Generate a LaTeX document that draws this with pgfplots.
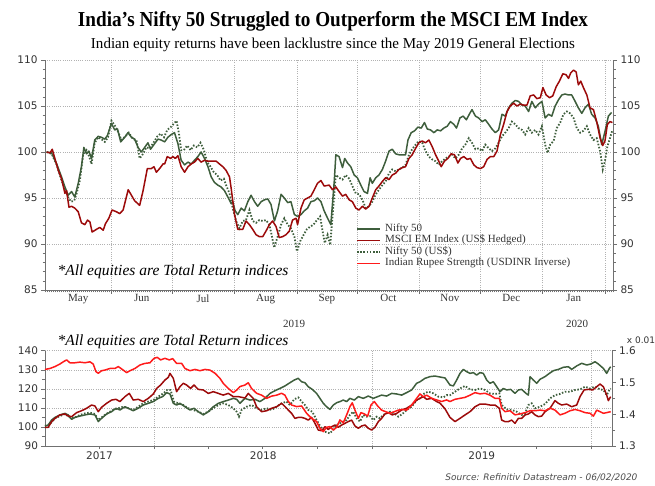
\documentclass[border=0pt]{standalone}
\usepackage{pgfplots}
\pgfplotsset{compat=1.18}
\usepackage{fontspec}
\setmainfont{Liberation Serif}
\newfontfamily\verd{DejaVu Sans}
\definecolor{niftygreen}{HTML}{3E5E3C}
\definecolor{msci}{HTML}{9C0A0A}
\definecolor{rupee}{HTML}{FF1A1A}
\definecolor{axisc}{HTML}{707070}
\tikzset{
  sline/.style={line width=1.5pt, line join=round},
  dline/.style={niftygreen, line width=1.8pt, dash pattern=on 1.5pt off 1.7pt},
}
\pgfplotsset{
  mygrid/.style={major grid style={black!30, line width=0.5pt, dash pattern=on 1pt off 1.2pt}},
}
\begin{document}
\begin{tikzpicture}[x=1pt,y=1pt]
\path[use as bounding box] (0,0) rectangle (655,486);
\node[anchor=base] at (333,459) {\resizebox{510pt}{15pt}{\bfseries India's Nifty 50 Struggled to Outperform the MSCI EM Index}};
\node[anchor=base] at (333,437) {\resizebox{484pt}{10.5pt}{Indian equity returns have been lacklustre since the May 2019 General Elections}};

% ---------------- TOP CHART ----------------
\begin{axis}[
  at={(45pt,196pt)}, anchor=south west, scale only axis, width=568pt, height=230pt,
  xmin=-2, xmax=280, ymin=85, ymax=110,
  axis x line*=bottom, axis y line*=left,
  axis line style={-, axisc, line width=0.8pt},
  tick align=outside, tick style={axisc, line width=0.5pt},
  major tick length=4pt, minor tick length=2.5pt,
  xtick={31,61,92,123,153,184,214,245,276}, xticklabels={{},{},{},{},{},{},{},{},{}},
  minor xtick={-2,-1,...,280},
  ytick={85,90,...,110}, minor y tick num=4,
  xmajorgrids, ymajorgrids, mygrid,
  extra x ticks={14.5,46,76.5,107.5,138,168.5,199,229.5,260.5},
  extra x tick labels={May,Jun,Jul,Aug,Sep,Oct,Nov,Dec,Jan},
  extra x tick style={grid=none, major tick length=0pt, tick label style={font=\fontsize{11}{11}\selectfont, text=black!80, yshift=-1pt}},
  yticklabel style={font=\verd\fontsize{10.5}{10.5}\selectfont, text=black!80},
  /pgf/number format/assume math mode=true,
]
\addplot[dline] coordinates {
(-1.2,100) (1.3,99.8) (3.8,98.6) (6.2,96.9) (7.9,96.0) (9.5,95.1) (10.9,94.6) (12.5,94.7) (13.7,95.5) (15.3,96.9)
(17.0,99.8) (18.6,100.2) (19.8,99.6) (21.1,98.7) (22.7,101.0) (24.4,101.6) (26.0,101.4) (27.7,101.1) (29.3,101.6) (31.0,103.4)
(32.6,102.9) (34.3,102.2) (35.9,101.3) (37.9,101.7) (39.6,102.1) (41.7,101.4) (43.4,101.3) (45.0,99.3) (46.7,99.8) (48.3,100.5)
(50.0,100.4) (52.1,101.1) (53.8,101.7) (55.4,102.0) (57.1,101.6) (58.7,102.4) (60.4,102.7) (62.0,103.1) (63.3,103.4) (64.5,102.0)
(65.6,100.2) (66.9,100.2) (68.6,100.7) (70.3,100.2) (71.9,100.7) (73.6,100.5) (75.2,101.0) (76.9,100.2) (78.5,98.9) (80.2,98.4)
(81.8,97.8) (83.5,97.5) (85.1,96.9) (86.8,97.1) (87.9,96.4) (89.6,95.5) (91.2,93.9) (92.9,92.5) (94.5,91.7) (96.2,92.5)
(97.8,92.6) (99.5,93.7) (101.1,92.5) (102.8,92.3) (104.4,92.6) (106.1,92.5) (107.7,92.6) (109.4,92.1) (110.5,91.0) (111.8,89.6)
(113.5,90.8) (115.2,92.1) (116.8,92.8) (118.5,92.1) (120.1,91.7) (121.8,90.8) (123.1,89.2) (124.7,90.3) (126.4,91.0) (128.0,91.6)
(129.7,91.9) (131.3,92.1) (133.0,92.6) (134.6,93.0) (135.8,91.4) (136.9,90.1) (138.3,91.0) (139.6,89.9) (141.2,94.3) (142.4,97.5)
(144.0,97.2) (145.7,97.0) (147.3,97.5) (149.0,97.1) (150.6,96.3) (152.3,95.5) (154.0,95.4) (155.6,94.8) (157.2,93.9) (158.9,94.1)
(160.5,94.6) (162.2,95.4) (163.8,95.9) (165.5,96.4) (167.1,96.8) (168.8,97.7) (170.4,98.1) (172.1,97.9) (173.7,98.1) (175.4,98.3)
(177.0,98.6) (178.7,99.7) (180.3,100.3) (182.0,100.8) (183.6,101.2) (185.3,101.0) (186.9,100.1) (188.6,99.5) (190.2,99.2) (191.9,99.0)
(193.5,98.6) (195.2,99.0) (196.8,99.3) (198.5,99.5) (200.1,99.7) (201.8,99.3) (203.4,99.7) (205.1,100.4) (206.7,100.8) (208.4,101.5)
(210.0,101.0) (211.7,100.3) (213.3,100.4) (215.0,100.1) (216.6,100.8) (218.3,100.4) (219.9,100.1) (221.6,100.4) (223.2,101.0) (224.9,101.7)
(226.5,102.1) (228.2,102.6) (229.8,103.3) (231.5,103.0) (233.1,102.6) (234.8,102.4) (236.4,101.9) (238.1,102.6) (239.7,102.1) (241.4,102.4)
(243.0,101.9) (244.7,102.8) (246.3,100.8) (247.5,99.9) (248.8,100.8) (250.5,101.2) (252.1,102.6) (253.8,103.2) (255.4,104.1) (257.1,104.4)
(258.7,104.2) (260.4,103.7) (262.0,102.6) (263.7,102.1) (265.3,102.3) (267.0,102.8) (268.6,101.9) (270.3,101.3) (271.9,101.5) (273.6,100.1)
(274.9,98.1) (276.0,99.0) (277.2,100.6) (278.5,101.5) (279.7,102.4)
};
\addplot[sline, niftygreen] coordinates {
(-1.2,100) (1.3,99.9) (3.8,98.7) (6.2,97.3) (7.9,96.2) (9.5,95.3) (11.2,95.7) (12.8,95.1) (14.5,96.6) (16.1,98.4)
(17.3,100.5) (18.6,99.8) (19.8,100.1) (21.1,99.3) (22.7,101.3) (24.4,101.7) (26.0,101.6) (27.7,101.4) (29.0,101.8) (31.0,103.1)
(32.6,102.4) (34.0,102.5) (35.6,101.1) (37.6,101.6) (39.2,102.1) (40.9,101.6) (42.5,101.4) (44.2,100.5) (45.8,100.0) (47.5,100.5)
(49.1,101.0) (50.4,100.3) (52.4,100.9) (54.1,101.4) (55.7,101.3) (57.4,101.1) (59.0,101.6) (60.7,101.9) (62.3,102.1) (64.0,100.9)
(65.6,99.1) (67.3,98.6) (69.0,98.9) (70.6,98.7) (72.2,99.1) (73.9,99.5) (75.5,100.0) (77.2,99.3) (78.9,98.4) (80.5,97.3)
(82.1,96.7) (83.8,96.4) (85.4,96.2) (87.1,95.8) (88.8,95.1) (90.4,94.4) (91.2,94.6) (92.4,93.6) (93.7,93.2) (95.4,93.9)
(97.0,93.6) (98.7,94.6) (100.3,95.3) (102.0,94.6) (103.6,94.1) (105.3,94.6) (106.9,94.8) (108.6,94.9) (110.2,94.3) (111.9,92.5)
(113.5,93.6) (115.2,95.4) (116.8,95.0) (118.5,94.5) (120.1,94.6) (121.8,93.2) (123.4,93.0) (125.1,93.2) (126.7,93.6) (128.4,93.9)
(130.0,94.6) (131.7,94.7) (133.3,95.0) (135.0,94.6) (136.6,93.6) (138.3,92.8) (139.9,92.1) (141.6,96.8) (142.4,99.7) (144.0,99.5)
(145.7,98.3) (146.8,99.3) (148.2,98.8) (149.8,98.4) (151.5,97.5) (153.1,97.2) (154.8,96.4) (156.4,95.7) (158.1,95.5) (159.4,97.2)
(160.5,96.6) (162.2,97.2) (163.8,97.5) (165.5,98.1) (167.1,99.0) (168.8,100.1) (170.4,100.3) (172.1,99.8) (173.7,99.7) (175.4,99.7)
(177.0,99.7) (178.2,101.3) (179.8,102.1) (181.5,102.3) (183.1,102.7) (184.8,102.6) (186.4,103.2) (187.8,102.5) (189.4,102.4) (191.1,102.1)
(192.7,102.4) (194.4,102.3) (196.0,102.6) (197.7,102.8) (199.3,103.3) (201.0,103.0) (202.3,102.6) (204.0,103.7) (205.6,103.9) (207.2,103.5)
(208.9,104.2) (210.0,104.6) (211.7,103.9) (213.3,103.7) (215.0,103.3) (216.6,103.5) (218.3,103.0) (219.9,102.5) (221.6,102.1) (223.2,102.4)
(224.9,104.1) (226.5,103.9) (228.2,104.8) (229.8,105.3) (231.5,105.6) (233.1,105.5) (234.8,105.1) (236.4,105.0) (238.1,104.4) (239.7,105.5)
(241.4,104.8) (243.0,105.2) (244.7,105.5) (246.3,103.7) (248.0,104.1) (249.6,103.9) (251.3,105.0) (253.0,105.7) (254.6,106.2) (256.2,106.3)
(257.9,106.2) (259.5,106.2) (261.2,105.5) (262.8,104.8) (264.5,104.2) (266.1,104.8) (267.8,105.2) (269.4,104.1) (271.1,103.7) (272.7,102.8)
(274.4,100.8) (276.0,102.2) (277.7,103.9) (279.3,104.3)
};
\addplot[sline, msci] coordinates {
(-1.2,100) (0.5,99.9) (1.6,100.3) (2.9,99.3) (4.6,98.0) (6.2,97.1) (7.9,95.5) (8.7,95.8) (9.9,94.0) (11.2,94.1)
(12.8,93.9) (14.5,93.5) (16.1,92.3) (17.8,92.1) (19.1,92.6) (20.3,92.4) (21.4,91.3) (23.6,91.6) (25.2,91.8) (26.9,91.5)
(28.0,92.2) (29.7,92.8) (31.3,93.7) (33.5,93.5) (35.1,93.3) (36.8,93.7) (39.3,95.9) (40.9,95.3) (42.5,94.7) (45.0,94.2)
(46.7,95.8) (48.8,98.2) (50.8,98.2) (52.1,98.4) (53.3,97.8) (54.9,98.2) (56.6,98.7) (57.4,98.7) (58.7,99.5) (60.4,99.3)
(61.5,99.5) (62.7,99.3) (64.0,99.6) (65.6,98.4) (67.3,97.8) (69.0,98.4) (70.6,98.7) (72.2,98.9) (73.9,99.3) (75.5,98.9)
(77.2,99.1) (78.9,99.0) (81.3,99.0) (83.0,99.0) (84.6,98.7) (86.3,98.4) (87.9,98.0) (89.6,97.3) (90.4,96.1) (92.1,93.2)
(93.7,91.6) (96.2,91.6) (97.8,92.5) (99.5,92.1) (101.1,91.6) (102.8,91.0) (104.4,90.8) (106.1,90.8) (107.7,91.4) (109.4,92.1)
(111.0,92.5) (112.7,91.9) (114.3,90.7) (116.0,90.8) (117.6,91.0) (119.3,91.4) (120.9,92.6) (122.6,92.8) (123.4,92.1) (125.1,93.9)
(126.7,94.8) (128.4,95.0) (130.0,95.2) (131.7,95.9) (133.3,96.6) (135.0,96.9) (136.6,96.3) (139.1,96.4) (140.7,95.9) (142.4,96.2)
(144.0,95.7) (145.7,95.2) (147.3,95.4) (149.0,94.8) (150.6,94.6) (152.3,93.9) (153.9,93.7) (155.6,94.1) (157.2,93.8) (158.9,94.1)
(160.5,95.0) (162.2,95.9) (163.8,96.3) (165.5,96.8) (167.1,97.2) (168.8,97.0) (170.4,97.5) (172.1,97.7) (173.7,98.1) (175.4,98.3)
(177.0,98.4) (178.7,99.3) (180.3,99.7) (182.0,100.4) (183.6,101.0) (185.3,101.2) (186.9,101.0) (188.6,101.3) (190.2,100.6) (191.9,99.7)
(193.5,99.0) (194.7,98.4) (196.3,99.0) (198.0,99.3) (199.6,99.8) (201.3,99.7) (203.0,98.8) (204.3,99.3) (205.9,99.5) (207.6,99.2)
(209.2,99.3) (210.9,98.6) (212.5,98.3) (214.2,98.2) (215.8,98.4) (217.5,99.2) (219.1,99.5) (220.8,99.5) (222.4,100.1) (224.1,101.9)
(225.7,103.0) (227.4,104.4) (229.0,105.0) (230.7,105.3) (232.3,105.0) (234.0,105.2) (235.6,105.1) (237.3,105.1) (238.9,106.1) (240.6,106.2)
(242.2,105.8) (243.9,105.9) (245.2,107.0) (246.8,106.2) (248.5,105.9) (250.1,106.1) (251.8,107.1) (253.4,107.7) (255.1,108.5) (256.7,108.4)
(257.9,108.0) (259.0,108.6) (260.4,108.9) (261.7,108.7) (262.8,107.3) (264.0,107.7) (265.3,107.0) (267.0,106.2) (268.6,104.8) (270.3,104.6)
(271.9,103.3) (273.6,101.5) (274.9,100.7) (276.0,101.2) (277.2,103.0) (278.5,103.3) (279.7,103.2)
};
\end{axis}
\begin{axis}[
  at={(45pt,196pt)}, anchor=south west, scale only axis, width=568pt, height=230pt,
  xmin=-2, xmax=280, ymin=85, ymax=110,
  axis x line=none, axis y line*=right,
  axis line style={-, axisc, line width=0.8pt},
  tick align=outside, tick style={axisc, line width=0.5pt},
  major tick length=4pt, minor tick length=2.5pt,
  ytick={85,90,...,110}, minor y tick num=4,
  yticklabel style={font=\verd\fontsize{10.5}{10.5}\selectfont, text=black!80},
  /pgf/number format/assume math mode=true,
]
\end{axis}
% legend
\draw[line width=1.5pt, niftygreen] (357,257) -- (380,257);
\draw[line width=1.5pt, msci] (357,245.5) -- (380,245.5);
\draw[line width=1.8pt, niftygreen, dash pattern=on 1.5pt off 1.7pt] (357,234) -- (380,234);
\draw[line width=1.5pt, rupee] (357,222.5) -- (380,222.5);
\begin{scope}[every node/.style={anchor=west, font=\fontsize{11}{11}\selectfont, text=black!80, inner sep=0pt}]
\node at (385,257) {\strut Nifty 50};
\node at (385,245.5) {\strut MSCI EM Index (US\$ Hedged)};
\node at (385,234) {\strut Nifty 50 (US\$)};
\node at (385,222.5) {\strut Indian Rupee Strength (USDINR Inverse)};
\end{scope}
\node[anchor=west, font=\itshape\fontsize{15.5}{15.5}\selectfont] at (54,214) {*All equities are Total Return indices};
\node[font=\fontsize{11}{11}\selectfont, text=black!80] at (294,162) {2019};
\node[font=\fontsize{11}{11}\selectfont, text=black!80] at (577,162) {2020};

% ---------------- BOTTOM CHART ----------------
\begin{axis}[
  at={(45pt,40pt)}, anchor=south west, scale only axis, width=567pt, height=95.3pt,
  xmin=2, xmax=949, ymin=90, ymax=140,
  axis x line*=bottom, axis y line*=left,
  axis line style={-, axisc, line width=0.8pt},
  tick align=outside, tick style={axisc, line width=0.5pt},
  major tick length=3.5pt, minor tick length=3pt,
  xtick={184,549,914}, xticklabels={{},{},{}},
  minor xtick={92,274,365,457,639,730,822},
  ytick={90,100,...,140}, minor y tick num=1,
  xmajorgrids, ymajorgrids, mygrid,
  extra x ticks={93,366.5,731.5},
  extra x tick labels={2017,2018,2019},
  extra x tick style={grid=none, major tick length=0pt, tick label style={font=\verd\fontsize{10.5}{10.5}\selectfont, text=black!80, yshift=-2pt}},
  yticklabel style={font=\verd\fontsize{10.5}{10.5}\selectfont, text=black!80},
  /pgf/number format/assume math mode=true,
]
\addplot[dline] coordinates {
(1.9,100.5) (10.2,101.5) (18.6,104.5) (26.9,105.7) (35.3,106.8) (43.6,105.0) (52.0,105.0) (60.3,106.3) (68.7,107.1) (77.0,107.5)
(85.4,106.8) (91.0,103.6) (99.3,105.7) (107.7,107.5) (116.0,108.9) (124.4,109.8) (132.7,110.6) (141.1,109.8) (149.4,108.9) (157.8,110.6)
(166.1,112.4) (174.5,113.3) (182.9,114.1) (191.2,115.9) (199.6,117.6) (206.2,119.4) (211.8,119.4) (217.4,113.3) (224.6,112.4) (233.0,111.5)
(241.3,109.8) (249.7,108.9) (258.0,108.0) (266.4,106.8) (274.7,108.0) (283.1,109.8) (291.5,111.5) (299.8,112.4) (308.2,111.5) (316.5,109.8)
(322.1,108.0) (326.0,105.4) (330.3,108.9) (338.7,110.6) (347.0,111.5) (355.4,109.8) (363.8,108.9) (372.1,109.8) (380.5,108.9) (388.8,110.6)
(397.2,112.4) (405.5,113.3) (411.1,111.5) (418.3,114.5) (425.0,115.5) (430.6,113.3) (436.1,111.5) (441.7,108.9) (448.4,108.0) (455.6,103.6)
(462.9,99.8) (469.6,97.5) (477.9,96.6) (483.5,98.7) (489.1,101.0) (494.6,101.9) (500.2,102.8) (505.8,103.6) (511.3,106.3) (516.9,108.0)
(522.5,104.5) (528.0,102.8) (533.6,106.3) (539.2,105.4) (544.7,105.7) (550.3,103.6) (555.9,105.4) (561.4,104.5) (567.0,106.3) (572.6,107.1)
(578.2,108.0) (585.4,107.1) (592.1,105.4) (598.8,106.8) (606.0,108.9) (614.4,110.6) (622.7,114.1) (628.3,115.0) (635.5,117.6) (642.2,118.5)
(650.6,117.6) (658.9,115.9) (667.3,115.5) (672.8,116.7) (678.4,116.7) (686.8,118.5) (695.1,120.2) (703.5,121.5) (711.8,119.7) (720.2,119.4)
(728.5,120.2) (736.9,119.4) (745.2,117.6) (753.6,117.3) (760.8,117.6) (764.7,111.5) (773.1,109.2) (781.4,108.9) (789.8,108.0) (798.1,106.3)
(803.7,107.1) (809.3,111.5) (814.8,112.4) (820.4,109.8) (828.8,110.6) (837.1,112.0) (845.5,115.0) (853.8,116.7) (862.2,117.3) (870.5,118.5)
(878.9,118.5) (887.2,119.4) (895.6,119.7) (903.9,121.1) (912.3,120.2) (920.7,121.1) (929.0,119.7) (934.6,119.4) (940.1,116.7) (944.6,119.4)
(946.8,120.2)
};
\addplot[sline, niftygreen] coordinates {
(1.9,100.5) (7.4,101.0) (13.0,103.6) (18.6,105.0) (26.9,106.3) (35.3,107.1) (40.8,106.3) (46.4,104.0) (52.0,105.0) (60.3,105.7)
(68.7,106.3) (77.0,106.8) (85.4,106.3) (91.0,102.8) (96.5,104.5) (104.9,106.8) (113.2,108.0) (120.5,109.8) (127.2,108.9) (135.5,110.6)
(141.1,109.8) (149.4,108.5) (157.8,109.8) (166.1,111.5) (174.5,112.4) (182.9,113.3) (191.2,115.0) (198.4,115.9) (205.1,118.0) (210.7,117.3)
(216.3,112.4) (221.8,111.5) (227.4,112.4) (235.8,110.6) (244.1,108.9) (250.8,109.8) (258.0,108.0) (266.4,106.3) (274.7,108.0) (283.1,110.6)
(291.5,112.4) (299.8,113.3) (308.2,114.1) (316.5,115.0) (322.1,114.5) (327.6,112.4) (335.9,115.0) (344.3,114.1) (352.6,114.5) (361.0,113.3)
(369.3,115.0) (377.7,117.6) (386.0,119.0) (394.4,120.2) (402.7,121.5) (411.1,123.2) (418.3,124.6) (425.0,125.5) (430.6,123.7) (436.1,123.2)
(441.7,121.1) (448.4,119.7) (455.6,117.6) (461.2,115.0) (466.8,112.4) (472.3,110.6) (477.9,109.2) (483.5,111.5) (489.1,112.7) (494.6,113.3)
(500.2,114.1) (505.8,113.3) (511.3,115.0) (518.6,114.1) (525.3,115.9) (533.6,115.0) (542.0,116.2) (550.3,115.0) (557.6,115.9) (564.2,116.7)
(572.6,116.2) (580.9,117.6) (589.3,117.3) (597.7,116.7) (606.0,118.0) (614.4,119.4) (622.7,122.9) (628.3,123.7) (636.6,125.5) (645.0,126.4)
(653.3,126.7) (661.7,126.2) (670.1,125.7) (678.4,122.0) (684.0,121.5) (689.5,124.6) (695.1,128.1) (700.7,130.2) (706.3,129.0) (711.8,128.1)
(717.4,128.5) (723.0,127.2) (728.5,128.5) (734.1,128.1) (739.7,124.6) (745.2,122.9) (750.8,123.7) (756.4,121.1) (761.9,118.5) (767.5,120.2)
(773.1,119.4) (779.8,119.7) (787.0,117.6) (792.6,119.4) (798.1,119.7) (805.4,117.6) (809.3,116.7) (812.1,126.4) (817.6,124.6) (823.2,122.9)
(828.8,125.0) (837.1,126.4) (844.4,128.1) (851.0,129.5) (859.4,130.2) (867.8,131.3) (876.1,131.6) (881.7,130.2) (890.0,132.0) (898.4,133.4)
(906.7,132.5) (913.4,133.0) (920.7,134.2) (926.2,133.0) (934.6,130.7) (940.1,128.1) (944.6,130.7) (946.8,131.6)
};
\addplot[sline, msci] coordinates {
(1.9,99.8) (7.4,99.8) (13.0,102.8) (18.6,104.5) (26.9,106.3) (35.3,106.8) (40.8,105.7) (46.4,105.4) (54.8,107.5) (63.1,108.5)
(71.5,109.8) (79.8,111.5) (85.4,111.0) (91.0,108.0) (96.5,110.3) (104.9,112.4) (113.2,114.1) (120.5,114.5) (127.2,113.3) (135.5,115.9)
(142.8,117.6) (149.4,114.1) (157.8,114.5) (166.1,113.3) (174.5,115.0) (182.9,117.3) (188.4,120.2) (195.1,122.0) (202.3,124.6) (207.9,126.0)
(210.7,128.1) (216.3,125.5) (221.8,118.5) (227.4,121.1) (233.0,122.9) (238.5,122.0) (245.2,120.2) (250.8,122.0) (258.0,119.7) (266.4,119.4)
(274.7,117.6) (283.1,118.5) (291.5,117.6) (299.8,116.7) (308.2,117.6) (316.5,115.9) (324.9,115.9) (336.0,115.2) (341.5,117.6) (349.8,115.0)
(355.4,110.6) (363.8,108.0) (372.1,108.5) (380.5,109.8) (388.8,110.6) (397.2,112.4) (405.5,109.8) (413.9,107.1) (419.4,104.5) (425.0,105.0)
(430.6,105.0) (436.1,104.5) (441.7,103.6) (447.3,105.0) (452.9,101.9) (458.4,98.4) (464.0,98.0) (469.6,100.1) (475.1,98.7) (480.7,100.1)
(486.3,101.0) (491.8,99.8) (497.4,101.0) (503.0,101.9) (508.5,102.8) (514.1,103.6) (519.7,100.5) (525.3,99.3) (530.8,100.5) (536.4,101.0)
(542.0,99.3) (547.5,98.4) (553.1,99.8) (558.7,102.8) (564.2,104.5) (569.8,106.8) (575.4,107.5) (582.1,106.3) (589.3,107.1) (597.7,108.9)
(606.0,109.8) (614.4,111.5) (622.7,114.1) (628.3,115.0) (633.8,115.9) (639.4,114.5) (647.8,115.0) (656.1,113.3) (661.7,112.5) (670.1,109.5)
(678.4,105.0) (686.8,102.8) (695.1,104.5) (703.5,106.3) (711.8,108.0) (720.2,110.6) (728.5,112.0) (736.9,112.0) (745.2,111.5) (753.6,111.5)
(760.8,109.8) (764.7,103.6) (770.3,102.8) (775.9,102.8) (781.4,103.6) (787.0,101.9) (792.6,104.5) (798.1,104.5) (803.7,106.3) (809.3,106.8)
(814.8,108.0) (820.4,106.3) (826.0,105.4) (831.6,105.7) (837.1,108.0) (845.5,109.8) (853.8,113.8) (859.4,112.4) (865.0,111.5) (873.3,112.0)
(881.7,110.6) (890.0,111.5) (895.6,115.9) (902.3,119.4) (909.5,119.7) (916.8,119.4) (923.4,121.1) (929.0,122.5) (934.6,121.1) (940.1,116.7)
(942.9,113.8) (946.8,115.9)
};
\end{axis}
\begin{axis}[
  at={(45pt,40pt)}, anchor=south west, scale only axis, width=567pt, height=95.3pt,
  xmin=2, xmax=949, ymin=1.3, ymax=1.6,
  axis x line=none, axis y line*=right,
  axis line style={-, axisc, line width=0.8pt},
  tick align=outside, tick style={axisc, line width=0.5pt},
  major tick length=3.5pt, minor tick length=3pt,
  ytick={1.3,1.4,1.5,1.6}, minor y tick num=1,
  yticklabel style={font=\verd\fontsize{10.5}{10.5}\selectfont, text=black!80, /pgf/number format/.cd, fixed, fixed zerofill, precision=1},
  /pgf/number format/assume math mode=true,
]
\addplot[sline, rupee] coordinates {
(1.9,1.541) (10.2,1.544) (18.6,1.550) (26.9,1.558) (32.5,1.565) (38.1,1.571) (43.6,1.562) (52.0,1.562) (60.3,1.564) (68.7,1.562)
(77.0,1.565) (82.6,1.558) (87.1,1.534) (91.0,1.529) (96.5,1.537) (102.1,1.539) (110.5,1.544) (118.8,1.544) (124.4,1.550) (132.7,1.539)
(138.3,1.531) (143.9,1.537) (152.2,1.544) (160.6,1.555) (168.9,1.560) (177.3,1.562) (184.0,1.576) (189.5,1.579) (195.1,1.571) (202.3,1.576)
(209.6,1.571) (215.2,1.575) (221.8,1.560) (230.2,1.560) (235.8,1.544) (244.1,1.537) (252.5,1.541) (260.8,1.537) (269.2,1.541) (277.5,1.539)
(285.9,1.529) (294.2,1.513) (299.8,1.497) (308.2,1.481) (316.5,1.468) (322.1,1.476) (327.6,1.487) (336.0,1.492) (341.5,1.499) (347.0,1.481)
(355.4,1.466) (363.8,1.460) (372.1,1.450) (380.5,1.457) (388.8,1.460) (397.2,1.466) (402.7,1.460) (408.3,1.440) (413.9,1.429) (422.2,1.424)
(430.6,1.426) (438.9,1.403) (447.3,1.387) (455.6,1.377) (461.2,1.356) (466.8,1.345) (472.3,1.359) (477.9,1.361) (483.5,1.350) (489.1,1.359)
(494.6,1.382) (500.2,1.373) (505.8,1.398) (511.3,1.424) (515.2,1.436) (519.7,1.413) (525.3,1.387) (529.7,1.405) (535.3,1.401) (540.9,1.394)
(546.4,1.429) (552.0,1.440) (557.6,1.426) (564.2,1.413) (570.9,1.408) (578.2,1.403) (585.4,1.408) (592.1,1.413) (598.8,1.415) (606.0,1.413)
(614.4,1.429) (622.7,1.450) (628.3,1.464) (633.8,1.455) (639.4,1.460) (647.8,1.450) (656.1,1.445) (664.5,1.440) (672.8,1.445) (678.4,1.440)
(686.8,1.447) (695.1,1.450) (703.5,1.453) (711.8,1.460) (720.2,1.468) (728.5,1.464) (736.9,1.466) (745.2,1.460) (753.6,1.450) (760.8,1.450)
(764.7,1.419) (770.3,1.408) (778.6,1.411) (787.0,1.398) (795.4,1.401) (803.7,1.405) (812.1,1.411) (820.4,1.411) (828.8,1.413) (837.1,1.411)
(845.5,1.419) (853.8,1.413) (862.2,1.398) (870.5,1.403) (878.9,1.411) (887.2,1.415) (895.6,1.411) (903.9,1.405) (912.3,1.403) (917.9,1.394)
(923.4,1.413) (929.0,1.408) (934.6,1.403) (940.1,1.405) (946.8,1.408)
};
\end{axis}
\node[anchor=west, font=\itshape\fontsize{15.5}{15.5}\selectfont] at (54,144) {*All equities are Total Return indices};
\node[font=\verd\fontsize{9}{9}\selectfont, text=black!80] at (641,146) {x 0.01};
\node[anchor=east, font=\verd\itshape\fontsize{9}{9}\selectfont, text=black!70] at (641,8) {Source: Refinitiv Datastream - 06/02/2020};
\end{tikzpicture}
\end{document}
